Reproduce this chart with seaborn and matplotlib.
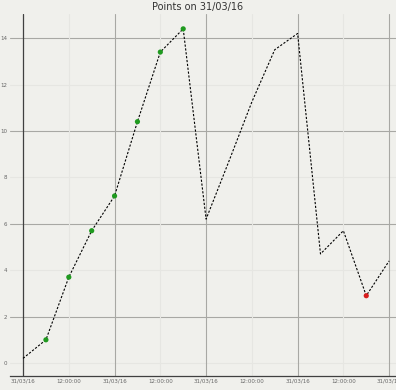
import matplotlib
matplotlib.use("Agg")
import matplotlib.pyplot as plt
import seaborn as sns
import pandas as pd
import numpy as np

title = "Points on 31/03/16"
x_idx = list(range(17))
values = [0.2, 1.0, 3.7, 5.7, 7.2, 10.4, 13.4, 14.4, 6.2, 8.7, 11.25, 13.5, 14.2, 4.7, 5.7, 2.9, 4.4]
green_points = [1, 2, 3, 4, 5, 6, 7]
red_points = [15]
x_ticks = [0, 2, 4, 6, 8, 10, 12, 14, 16]
x_labels = ["31/03/16", "12:00:00", "31/03/16", "12:00:00", "31/03/16",
            "12:00:00", "31/03/16", "12:00:00", "31/03/16"]
y_ticks = [0, 2, 4, 6, 8, 10, 12, 14]

df = pd.DataFrame({"x": x_idx, "y": values})
dg = df.iloc[green_points]
dr = df.iloc[red_points]

sns.set_theme(style="white")
bg = "#f0f0ec"
fig = plt.figure(figsize=(3.96, 3.90), dpi=100, facecolor=bg)
ax = fig.add_axes([10/396, 14/390, 1 - 10/396, 1 - 28/390])
ax.set_facecolor(bg)

ax.set_xlim(-0.57, 16.3)
ax.set_ylim(-0.56, 15.04)

# grid lines
for yv in [2, 6, 10, 14]:
    ax.axhline(yv, color="#a8a8a4", lw=0.8, zorder=0)
for yv in [0, 4, 8, 12]:
    ax.axhline(yv, color="#e6e6e2", lw=0.8, zorder=0)
for xv in [4, 8, 12, 16]:
    ax.axvline(xv, color="#a8a8a4", lw=0.8, zorder=0)
for xv in [2, 6, 10, 14]:
    ax.axvline(xv, color="#e6e6e2", lw=0.8, zorder=0)
ax.axvline(0, color="#404040", lw=0.9, zorder=1)

sns.lineplot(data=df, x="x", y="y", ax=ax, color="black", lw=0.8,
             linestyle=(0, (2, 1.5)), zorder=2)
sns.scatterplot(data=dg, x="x", y="y", ax=ax, color="#1f9a1f", s=14,
                edgecolor="none", zorder=3)
sns.scatterplot(data=dr, x="x", y="y", ax=ax, color="#d81e1e", s=14,
                edgecolor="none", zorder=3)

ax.set_xticks(x_ticks)
ax.set_xticklabels(x_labels, fontsize=4, color="#666666")
ax.set_yticks(y_ticks)
ax.set_yticklabels([str(v) for v in y_ticks], fontsize=4, color="#666666")
ax.tick_params(axis="both", length=0, pad=2)
ax.set_xlabel("")
ax.set_ylabel("")

for s in ["top", "right", "left"]:
    ax.spines[s].set_visible(False)
ax.spines["bottom"].set_color("#404040")
ax.spines["bottom"].set_linewidth(0.9)

fig.text(0.5, 1 - 7/390, title, ha="center", va="center", fontsize=7, color="#333333")

fig.savefig("out.png", dpi=100, facecolor=bg)
